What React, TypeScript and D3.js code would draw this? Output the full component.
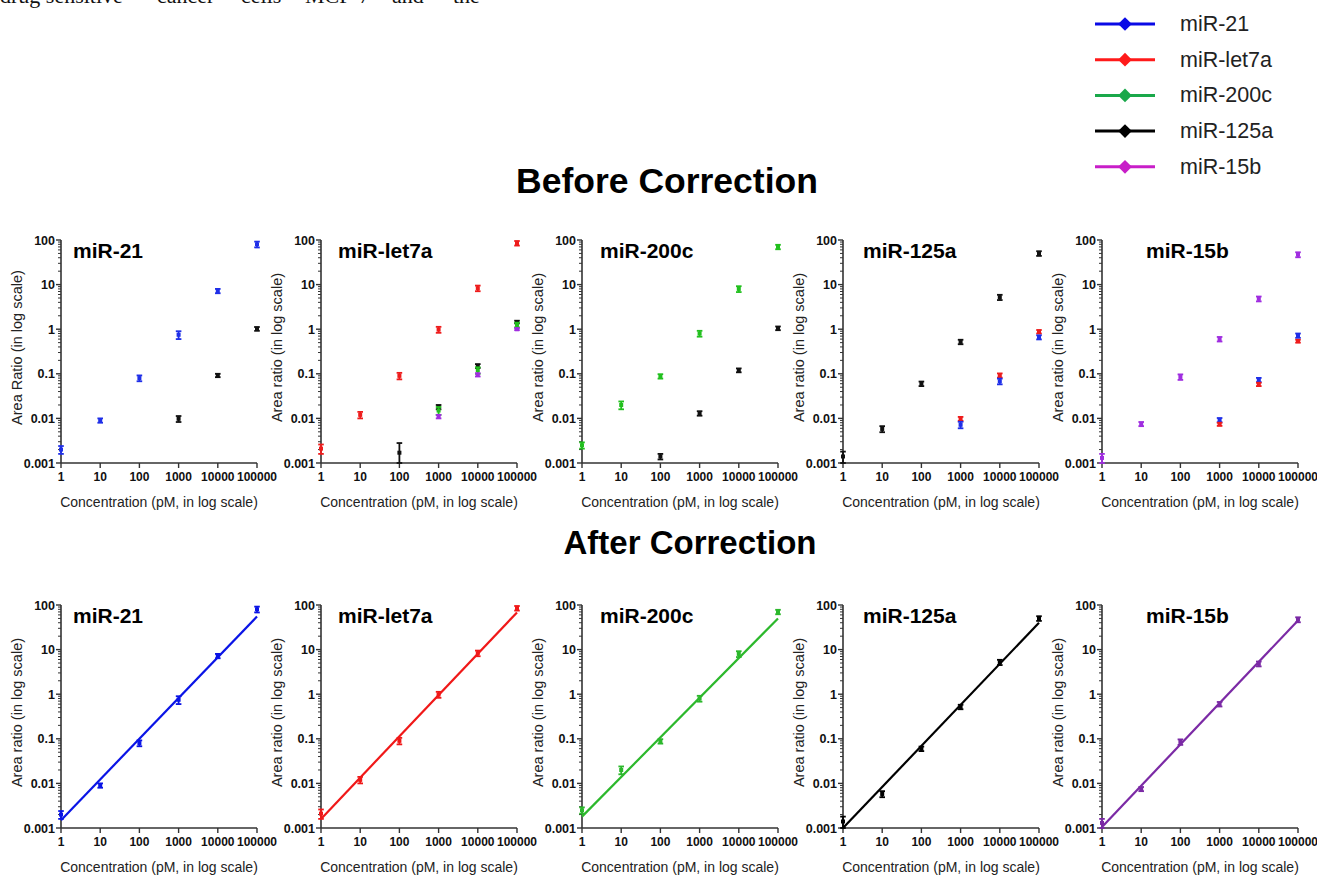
import React, { useEffect, useRef } from "react";
import * as d3 from "d3";

// concentrations (pM) and axis ticks
const CONC = [1, 10, 100, 1000, 10000, 100000];
const X_TICKS = [1, 10, 100, 1000, 10000, 100000];
const X_TICK_LABELS = ["1", "10", "100", "1000", "10000", "100000"];
const Y_TICKS = [0.001, 0.01, 0.1, 1, 10, 100];
const Y_TICK_LABELS = ["0.001", "0.01", "0.1", "1", "10", "100"];

// target miRNA series (mean / sd of area ratio)
const MIR21_MEAN = [0.002, 0.009, 0.08, 0.75, 7.2, 80];
const MIR21_SD = [0.0004, 0.001, 0.012, 0.15, 0.8, 12];
const LET7A_MEAN = [0.0021, 0.012, 0.09, 0.98, 8.3, 85];
const LET7A_SD = [0.0005, 0.002, 0.015, 0.15, 1.2, 10];
const MIR200C_MEAN = [0.0025, 0.02, 0.088, 0.8, 8.0, 70];
const MIR200C_SD = [0.0004, 0.004, 0.01, 0.12, 1.2, 8];
const MIR125A_MEAN = [0.0014, 0.0058, 0.06, 0.52, 5.2, 50];
const MIR125A_SD = [0.0004, 0.0009, 0.007, 0.06, 0.7, 6];
const MIR15B_MEAN = [0.0013, 0.0075, 0.085, 0.6, 4.8, 47];
const MIR15B_SD = [0.0003, 0.0008, 0.012, 0.07, 0.6, 6];

// interfering signals seen before correction
const HI3 = [1000, 10000, 100000];
const HI4 = [100, 1000, 10000, 100000];
const P21_BLACK_MEAN = [0.0098, 0.092, 1.02];
const P21_BLACK_SD = [0.0015, 0.008, 0.1];
const PLET_BLACK_MEAN = [0.0017, 0.018, 0.15, 1.45];
const PLET_BLACK_SD = [0.0011, 0.002, 0.015, 0.1];
const PLET_GREEN_MEAN = [0.015, 0.12, 1.25];
const PLET_GREEN_SD = [0.003, 0.02, 0.15];
const PLET_PURPLE_MEAN = [0.011, 0.095, 1.0];
const PLET_PURPLE_SD = [0.001, 0.008, 0.05];
const P200_BLACK_MEAN = [0.0014, 0.013, 0.12, 1.05];
const P200_BLACK_SD = [0.0002, 0.0015, 0.012, 0.1];
const P125_RED_MEAN = [0.0098, 0.092, 0.88];
const P125_RED_SD = [0.001, 0.01, 0.08];
const P125_BLUE_MEAN = [0.0072, 0.068, 0.66];
const P125_BLUE_SD = [0.0012, 0.01, 0.07];
const P15_BLUE_MEAN = [0.0092, 0.073, 0.72];
const P15_BLUE_SD = [0.001, 0.008, 0.08];
const P15_RED_MEAN = [0.0074, 0.058, 0.54];
const P15_RED_SD = [0.0006, 0.005, 0.04];

// fitted line after correction: value at 1 pM and at 100000 pM
const MIR21_FIT = [0.0015, 55];
const LET7A_FIT = [0.0016, 68];
const MIR200C_FIT = [0.0018, 50];
const MIR125A_FIT = [0.001, 40];
const MIR15B_FIT = [0.00105, 45];

const LEGEND_NAMES = ["miR-21", "miR-let7a", "miR-200c", "miR-125a", "miR-15b"];
const LEGEND_COLORS = ["#0a0ae6", "#ff1a1a", "#1aa84a", "#000000", "#c81ec8"];

const BLUE = "#1f2fe8";
const RED = "#ee1c1c";
const GREEN = "#22c01e";
const BLACK = "#111111";
const PURPLE = "#a02ee0";

const FONT = "'Liberation Sans', Arial, sans-serif";

type Series = { color: string; x: number[]; mean: number[]; sd: number[] };
type Panel = {
  title: string;
  color: string;
  lineColor: string;
  mean: number[];
  sd: number[];
  fit: number[];
  extras: Series[];
  beforeYLabel: string;
};

const PANELS: Panel[] = [
  {
    title: "miR-21", color: BLUE, lineColor: "#0a14e6", mean: MIR21_MEAN, sd: MIR21_SD, fit: MIR21_FIT,
    extras: [{ color: BLACK, x: HI3, mean: P21_BLACK_MEAN, sd: P21_BLACK_SD }],
    beforeYLabel: "Area Ratio (in log scale)",
  },
  {
    title: "miR-let7a", color: RED, lineColor: "#f01818", mean: LET7A_MEAN, sd: LET7A_SD, fit: LET7A_FIT,
    extras: [
      { color: BLACK, x: HI4, mean: PLET_BLACK_MEAN, sd: PLET_BLACK_SD },
      { color: GREEN, x: HI3, mean: PLET_GREEN_MEAN, sd: PLET_GREEN_SD },
      { color: PURPLE, x: HI3, mean: PLET_PURPLE_MEAN, sd: PLET_PURPLE_SD },
    ],
    beforeYLabel: "Area ratio (in log scale)",
  },
  {
    title: "miR-200c", color: GREEN, lineColor: "#2cb82c", mean: MIR200C_MEAN, sd: MIR200C_SD, fit: MIR200C_FIT,
    extras: [{ color: BLACK, x: HI4, mean: P200_BLACK_MEAN, sd: P200_BLACK_SD }],
    beforeYLabel: "Area ratio (in log scale)",
  },
  {
    title: "miR-125a", color: BLACK, lineColor: "#000000", mean: MIR125A_MEAN, sd: MIR125A_SD, fit: MIR125A_FIT,
    extras: [
      { color: RED, x: HI3, mean: P125_RED_MEAN, sd: P125_RED_SD },
      { color: BLUE, x: HI3, mean: P125_BLUE_MEAN, sd: P125_BLUE_SD },
    ],
    beforeYLabel: "Area ratio (in log scale)",
  },
  {
    title: "miR-15b", color: PURPLE, lineColor: "#7b2aa5", mean: MIR15B_MEAN, sd: MIR15B_SD, fit: MIR15B_FIT,
    extras: [
      { color: BLUE, x: HI3, mean: P15_BLUE_MEAN, sd: P15_BLUE_SD },
      { color: RED, x: HI3, mean: P15_RED_MEAN, sd: P15_RED_SD },
    ],
    beforeYLabel: "Area ratio (in log scale)",
  },
];

// layout
const PANEL_X = [61, 321, 582, 843, 1102];
const TITLE_DX = [12, 17, 18, 20, 44];
const PANEL_W = 196;
const ROWS = [
  { top: 240, bottom: 463, titleY: 258, after: false },
  { top: 605, bottom: 828, titleY: 623, after: true },
];

export default function App() {
  const svgRef = useRef<SVGSVGElement | null>(null);

  useEffect(() => {
    if (!svgRef.current) return;
    const svg = d3.select(svgRef.current);
    svg.selectAll("*").remove();

    // fragment of body text at the top of the page (cut by the page edge, as in the source)
    const words = [
      ["drug sensitive", 0],
      ["cancer", 157],
      ["cells", 241],
      ["MCF-7", 305],
      ["and", 392],
      ["the", 453],
    ] as const;
    words.forEach(([w, x]) => {
      svg.append("text").attr("x", x).attr("y", 3)
        .attr("font-family", "'Liberation Serif', 'DejaVu Serif', serif")
        .attr("font-size", "22px").attr("fill", "#111").text(w);
    });

    // section headings
    svg.append("text").attr("x", 667).attr("y", 193).attr("text-anchor", "middle")
      .attr("font-family", FONT).attr("font-weight", "bold").attr("font-size", "35.5px")
      .attr("fill", "#000").text("Before Correction");
    svg.append("text").attr("x", 690).attr("y", 554).attr("text-anchor", "middle")
      .attr("font-family", FONT).attr("font-weight", "bold").attr("font-size", "33px")
      .attr("fill", "#000").text("After Correction");

    // legend
    LEGEND_NAMES.forEach((name, i) => {
      const cy = 24 + i * 35.7;
      const g = svg.append("g");
      g.append("line").attr("x1", 1095).attr("x2", 1155).attr("y1", cy).attr("y2", cy)
        .attr("stroke", LEGEND_COLORS[i]).attr("stroke-width", 3);
      g.append("path")
        .attr("d", d3.symbol(d3.symbolDiamond2, 120)())
        .attr("transform", `translate(1125,${cy})`)
        .attr("fill", LEGEND_COLORS[i]);
      g.append("text").attr("x", 1180).attr("y", cy + 7)
        .attr("font-family", FONT).attr("font-size", "21.5px").attr("fill", "#222").text(name);
    });

    const drawBars = (g: any, x: any, y: any, color: string, xs: number[], mean: number[], sd: number[]) => {
      xs.forEach((c, i) => {
        const cx = x(c);
        const yLo = y(Math.max(mean[i] - sd[i], 1e-4));
        const yHi = y(mean[i] + sd[i]);
        g.append("line").attr("x1", cx).attr("x2", cx).attr("y1", yLo).attr("y2", yHi)
          .attr("stroke", color).attr("stroke-width", 1.8);
        [yLo, yHi].forEach((yy) => {
          g.append("line").attr("x1", cx - 2.8).attr("x2", cx + 2.8).attr("y1", yy).attr("y2", yy)
            .attr("stroke", color).attr("stroke-width", 1.8);
        });
        g.append("rect").attr("x", cx - 2).attr("y", y(mean[i]) - 2)
          .attr("width", 4).attr("height", 4).attr("fill", color);
      });
    };

    ROWS.forEach((row) => {
      PANELS.forEach((p, pi) => {
        const x0 = PANEL_X[pi];
        const x = d3.scaleLog().domain([1, 100000]).range([x0, x0 + PANEL_W]);
        const y = d3.scaleLog().domain([0.001, 100]).range([row.bottom, row.top]).clamp(true);
        const g = svg.append("g");

        // y axis with log minor ticks
        g.append("line").attr("x1", x0).attr("x2", x0).attr("y1", row.top).attr("y2", row.bottom)
          .attr("stroke", "#333").attr("stroke-width", 1.6);
        Y_TICKS.forEach((t, ti) => {
          g.append("line").attr("x1", x0 - 5).attr("x2", x0).attr("y1", y(t)).attr("y2", y(t))
            .attr("stroke", "#333").attr("stroke-width", 1.4);
          g.append("text").attr("x", x0 - 6).attr("y", y(t) + 4.5).attr("text-anchor", "end")
            .attr("font-family", FONT).attr("font-weight", "bold").attr("font-size", "12.5px")
            .attr("fill", "#111").text(Y_TICK_LABELS[ti]);
          if (t < 100) {
            d3.range(2, 10).forEach((m) => {
              const v = t * m;
              g.append("line").attr("x1", x0 - 3).attr("x2", x0).attr("y1", y(v)).attr("y2", y(v))
                .attr("stroke", "#333").attr("stroke-width", 1);
            });
          }
        });

        // x axis
        g.append("line").attr("x1", x0).attr("x2", x0 + PANEL_W).attr("y1", row.bottom).attr("y2", row.bottom)
          .attr("stroke", "#333").attr("stroke-width", 1.6);
        X_TICKS.forEach((t, ti) => {
          g.append("line").attr("x1", x(t)).attr("x2", x(t)).attr("y1", row.bottom).attr("y2", row.bottom + 5)
            .attr("stroke", "#333").attr("stroke-width", 1.4);
          g.append("text").attr("x", x(t)).attr("y", row.bottom + 18).attr("text-anchor", "middle")
            .attr("font-family", FONT).attr("font-weight", "bold").attr("font-size", "12px")
            .attr("fill", "#111").text(X_TICK_LABELS[ti]);
        });

        // axis titles
        g.append("text").attr("x", x0 + PANEL_W / 2).attr("y", row.bottom + 44).attr("text-anchor", "middle")
          .attr("font-family", FONT).attr("font-size", "14px").attr("fill", "#222")
          .text("Concentration (pM, in log scale)");
        const ylab = row.after ? "Area ratio (in log scale)" : p.beforeYLabel;
        g.append("text")
          .attr("transform", `translate(${x0 - 39},${(row.top + row.bottom) / 2 - 4}) rotate(-90)`)
          .attr("text-anchor", "middle").attr("font-family", FONT).attr("font-size", "14.5px")
          .attr("fill", "#222").text(ylab);

        // panel title
        g.append("text").attr("x", x0 + TITLE_DX[pi]).attr("y", row.titleY)
          .attr("font-family", FONT).attr("font-weight", "bold").attr("font-size", "21px")
          .attr("fill", "#000").text(p.title);

        if (row.after) {
          const line = d3.line<[number, number]>().x((d) => x(d[0])).y((d) => y(d[1]));
          g.append("path")
            .datum([[1, p.fit[0]], [100000, p.fit[1]]] as [number, number][])
            .attr("d", line).attr("fill", "none").attr("stroke", p.lineColor).attr("stroke-width", 2.2);
          drawBars(g, x, y, p.lineColor, CONC, p.mean, p.sd);
        } else {
          p.extras.forEach((s) => drawBars(g, x, y, s.color, s.x, s.mean, s.sd));
          drawBars(g, x, y, p.color, CONC, p.mean, p.sd);
        }
      });
    });
  }, []);

  return (
    <div style={{ position: "absolute", left: 0, top: 0, width: 1317, height: 875, background: "#fff" }}>
      <svg ref={svgRef} width={1317} height={875} style={{ display: "block" }} />
    </div>
  );
}
